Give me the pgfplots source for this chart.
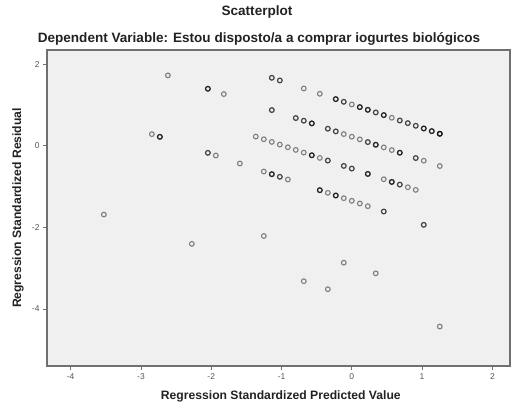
\documentclass[border=0pt]{standalone}
\usepackage{fontspec}
\setmainfont{Liberation Sans}
\usepackage{pgfplots}
\usepackage{pgfplotstable}
\pgfplotsset{compat=1.18}

\definecolor{bg}{HTML}{F0F0F0}
\definecolor{framec}{HTML}{707070}
\definecolor{ticklab}{HTML}{555555}
\definecolor{labc}{HTML}{222222}

% x y (points drawn several times are overlapping cases, which SPSS shows darker)
\pgfplotstableread{
x y
-1.138 1.663
-1.138 1.663
-1.024 1.598
-1.024 1.598
-0.683 1.402
-0.455 1.271
-0.228 1.141
-0.228 1.141
-0.228 1.141
-0.114 1.075
-0.114 1.075
0.000 1.010
0.114 0.945
0.114 0.945
0.114 0.945
0.228 0.879
0.228 0.879
0.228 0.879
0.341 0.814
0.341 0.814
0.455 0.749
0.455 0.749
0.455 0.749
0.569 0.684
0.683 0.618
0.683 0.618
0.797 0.553
0.797 0.553
0.910 0.488
0.910 0.488
1.024 0.422
1.024 0.422
1.024 0.422
1.138 0.357
1.138 0.357
1.138 0.357
1.252 0.292
1.252 0.292
1.252 0.292
1.252 0.292
-2.617 1.722
-2.048 1.395
-2.048 1.395
-2.048 1.395
-1.821 1.265
-1.138 0.873
-1.138 0.873
-0.797 0.677
-0.797 0.677
-0.683 0.612
-0.683 0.612
-0.569 0.547
-0.569 0.547
-0.569 0.547
-0.341 0.416
-0.341 0.416
-0.228 0.351
-0.228 0.351
-0.114 0.285
0.000 0.220
0.114 0.155
0.228 0.089
0.228 0.089
0.341 0.024
0.341 0.024
0.341 0.024
0.455 -0.041
0.569 -0.107
0.683 -0.172
0.683 -0.172
0.683 -0.172
0.910 -0.302
0.910 -0.302
1.024 -0.368
1.252 -0.498
-1.366 0.224
-1.252 0.158
-1.138 0.093
-1.024 0.028
-0.910 -0.038
-0.797 -0.103
-0.683 -0.168
-0.569 -0.234
-0.569 -0.234
-0.569 -0.234
-0.455 -0.299
-0.341 -0.364
-0.341 -0.364
-0.114 -0.495
-0.114 -0.495
0.000 -0.560
0.000 -0.560
0.228 -0.691
0.228 -0.691
0.228 -0.691
0.455 -0.821
0.569 -0.887
0.569 -0.887
0.569 -0.887
0.683 -0.952
0.683 -0.952
0.797 -1.017
0.910 -1.082
-2.845 0.283
-2.731 0.217
-2.731 0.217
-2.731 0.217
-2.048 -0.175
-2.048 -0.175
-1.935 -0.240
-1.593 -0.436
-1.252 -0.632
-1.138 -0.697
-1.138 -0.697
-1.138 -0.697
-1.024 -0.762
-1.024 -0.762
-0.910 -0.828
-0.455 -1.089
-0.455 -1.089
-0.455 -1.089
-0.341 -1.154
-0.228 -1.219
-0.228 -1.219
-0.228 -1.219
-0.114 -1.285
0.000 -1.350
0.114 -1.415
0.228 -1.481
0.455 -1.611
0.455 -1.611
1.024 -1.938
1.024 -1.938
-1.252 -2.212
-0.114 -2.865
0.341 -3.126
-3.528 -1.686
-2.276 -2.404
-0.683 -3.318
-0.341 -3.514
1.252 -4.428
}\pts

\begin{document}
\begin{tikzpicture}
\path[use as bounding box] (-47bp,-42bp) rectangle (466bp,366bp);
\begin{axis}[
  at={(0,0)}, anchor=south west,
  scale only axis, width=463bp, height=316bp,
  xmin=-4.337, xmax=2.251, ymin=-5.395, ymax=2.344,
  xtick={-4,-3,-2,-1,0,1,2}, ytick={-4,-2,0,2},
  axis background/.style={fill=bg},
  axis line style={draw=framec, line width=1.3bp},
  tick align=outside, tick pos=left, major tick length=4bp,
  every tick/.style={draw=framec, line width=0.8bp},
  tick label style={font=\fontsize{8.5}{10}\selectfont, text=ticklab},
  /pgf/number format/assume math mode=true,
  xlabel={Regression Standardized Predicted Value},
  ylabel={Regression Standardized Residual},
  xlabel style={at={(axis description cs:0.505,-0.095)}, anchor=center,
    font=\bfseries\fontsize{12.2}{14}\selectfont, text=labc},
  ylabel style={at={(axis description cs:-0.0626,0.5)}, anchor=center,
    font=\bfseries\fontsize{12.2}{14}\selectfont, text=labc},
  clip=false,
]
\addplot[only marks, mark=o, mark size=2.35bp,
  mark options={draw=black, draw opacity=0.48, line width=1.1bp}] table {\pts};
\node[font=\bfseries\fontsize{13.6}{15}\selectfont, text=labc]
  at (axis description cs:0.4536,1.120) {Scatterplot};
\node[font=\bfseries\fontsize{13.6}{15}\selectfont, text=labc]
  at (axis description cs:0.458,1.036) {Dependent Variable: Estou disposto/a a comprar iogurtes biológicos};
\end{axis}
\end{tikzpicture}
\end{document}
